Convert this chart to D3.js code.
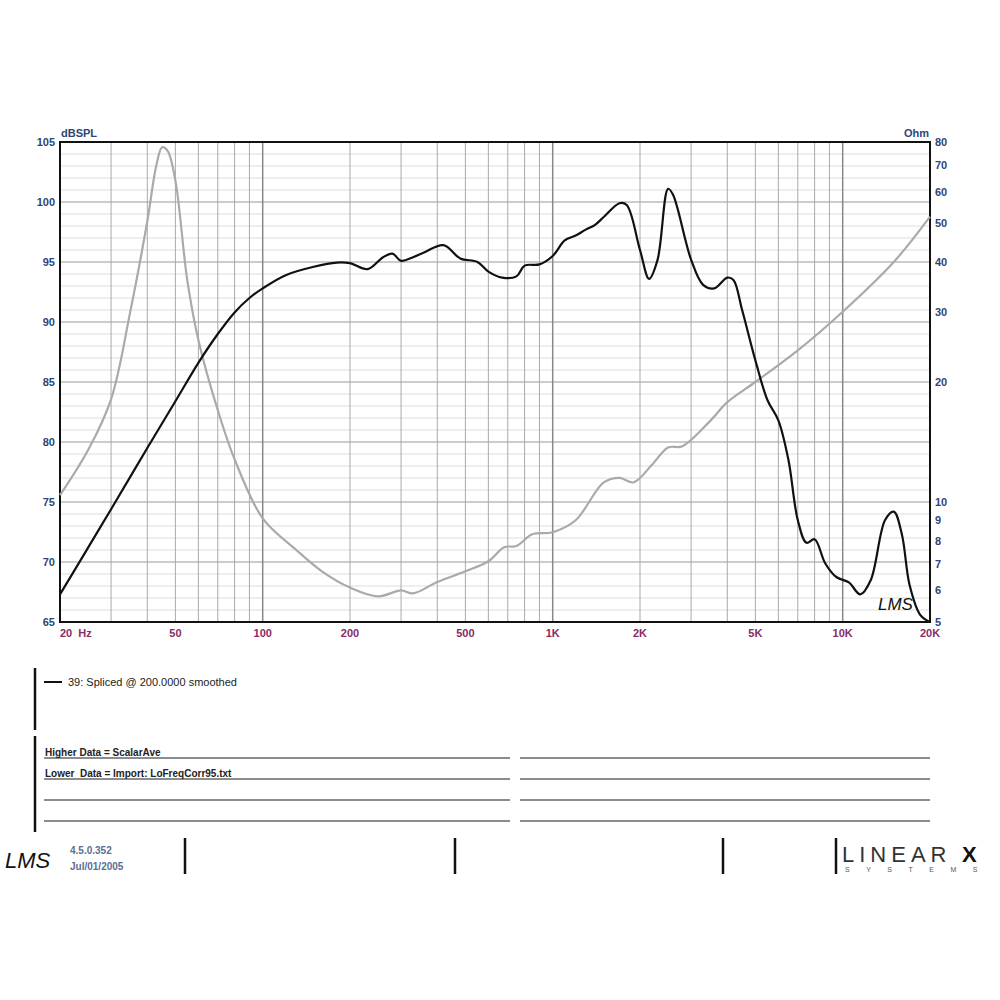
<!DOCTYPE html>
<html>
<head>
<meta charset="utf-8">
<script src="https://cdn.jsdelivr.net/npm/d3@7"></script>
<style>
  body { margin: 0; background: #fff; }
  text { font-family: "Liberation Sans", Arial, sans-serif; }
</style>
</head>
<body>
<svg id="chart" width="1000" height="1000"></svg>
<script>
"use strict";
// SPL response (black), freq Hz -> dB
var splFreq = [20, 25, 30, 40, 50, 60, 70, 80, 90, 100, 120, 150, 180, 200, 230, 260, 280, 300, 330, 360, 420, 480, 550, 600, 670, 750, 800, 900, 1000, 1100, 1200, 1300, 1400, 1500, 1700, 1800, 2000, 2150, 2300, 2500, 2600, 3000, 3300, 3600, 4000, 4200, 4500, 5000, 5500, 6000, 6500, 7000, 7500, 8000, 8700, 9500, 10500, 11500, 12500, 14000, 15000, 16000, 17000, 18500, 20000];
var splDb = [67.3, 71.2, 74.4, 79.5, 83.4, 86.6, 89.0, 90.8, 92.0, 92.8, 93.9, 94.6, 94.95, 94.9, 94.4, 95.4, 95.7, 95.1, 95.4, 95.8, 96.4, 95.3, 95.0, 94.2, 93.7, 93.8, 94.7, 94.8, 95.5, 96.8, 97.2, 97.7, 98.1, 98.75, 99.9, 99.75, 96.0, 93.6, 95.2, 101.1, 100.6, 95.2, 93.1, 92.8, 93.7, 93.5, 91.0, 86.8, 83.5, 81.8, 78.5, 73.5, 71.6, 71.9, 69.9, 68.75, 68.3, 67.3, 68.5, 73.5, 74.2, 72.3, 68.1, 65.6, 65.0];
// impedance (gray), freq Hz -> Ohm
var impFreq = [20, 25, 30, 35, 40, 43, 45, 47, 50, 55, 60, 70, 80, 100, 130, 160, 200, 250, 300, 330, 400, 500, 600, 680, 750, 850, 1000, 1200, 1500, 1700, 1900, 2200, 2500, 2800, 3500, 4000, 5000, 7000, 10000, 15000, 20000];
var impOhm = [10.4, 13.5, 18.1, 30.2, 50.6, 70, 77.6, 76, 64, 35.8, 25.5, 17.0, 12.8, 9.1, 7.6, 6.7, 6.1, 5.8, 6.0, 5.9, 6.3, 6.7, 7.1, 7.7, 7.76, 8.3, 8.4, 9.0, 11.2, 11.5, 11.2, 12.4, 13.7, 13.8, 16.0, 17.8, 20.0, 24.0, 30.0, 40.0, 52.0];

var dbTicks = [65, 70, 75, 80, 85, 90, 95, 100, 105];
var ohmTicks = [5, 6, 7, 8, 9, 10, 20, 30, 40, 50, 60, 70, 80];
var freqTicks = [20, 50, 100, 200, 500, 1000, 2000, 5000, 10000, 20000];
var freqLabels = ["20  Hz", "50", "100", "200", "500", "1K", "2K", "5K", "10K", "20K"];
var legendText = "39: Spliced @ 200.0000 smoothed";
var notes = ["Higher Data = ScalarAve", "Lower  Data = Import: LoFreqCorr95.txt"];

var svg = d3.select("#chart");
var L = 60, R = 930, T = 142, B = 622;
var x = d3.scaleLog().domain([20, 20000]).range([L, R]);
var y = d3.scaleLinear().domain([65, 105]).range([B, T]);
var yR = d3.scaleLog().domain([5, 80]).range([B, T]);

// grid
var g = svg.append("g");
d3.range(65, 106, 1).forEach(function (d) {
  g.append("line").attr("x1", L).attr("x2", R).attr("y1", y(d)).attr("y2", y(d))
    .attr("stroke", d % 5 === 0 ? "#999" : "#ddd").attr("stroke-width", d % 5 === 0 ? 1.2 : 1);
});
[10, 100, 1000, 10000].forEach(function (dec) {
  for (var m = 1; m < 10; m++) {
    var f = dec * m;
    if (f <= 20 || f >= 20000) continue;
    g.append("line").attr("y1", T).attr("y2", B).attr("x1", x(f)).attr("x2", x(f))
      .attr("stroke", m === 1 ? "#888" : "#aaa").attr("stroke-width", m === 1 ? 1.5 : 1);
  }
});
svg.append("rect").attr("x", L).attr("y", T).attr("width", R - L).attr("height", B - T)
  .attr("fill", "none").attr("stroke", "#111").attr("stroke-width", 2);

// axes text
var blue = "#2e4576", maroon = "#8a2a66";
svg.selectAll(".yl").data(dbTicks).enter().append("text")
  .attr("x", 55).attr("y", function (d) { return y(d) + 4; }).attr("text-anchor", "end")
  .attr("font-size", 11).attr("font-weight", "bold").attr("fill", blue).text(function (d) { return d; });
svg.selectAll(".yr").data(ohmTicks).enter().append("text")
  .attr("x", 935).attr("y", function (d) { return yR(d) + 4; })
  .attr("font-size", 11).attr("font-weight", "bold").attr("fill", blue).text(function (d) { return d; });
svg.selectAll(".xl").data(freqTicks).enter().append("text")
  .attr("x", function (d) { return x(d); }).attr("y", 637)
  .attr("text-anchor", function (d, i) { return i === 0 ? "start" : "middle"; })
  .attr("font-size", 11).attr("font-weight", "bold").attr("fill", maroon).attr("xml:space", "preserve")
  .text(function (d, i) { return freqLabels[i]; });
svg.append("text").attr("x", 61).attr("y", 137).attr("font-size", 11).attr("font-weight", "bold").attr("fill", blue).text("dBSPL");
svg.append("text").attr("x", 904).attr("y", 137).attr("font-size", 11).attr("font-weight", "bold").attr("fill", blue).text("Ohm");

// curves
var impLine = d3.line().curve(d3.curveCatmullRom)
  .x(function (d) { return x(d[0]); }).y(function (d) { return yR(d[1]); });
svg.append("path").attr("d", impLine(d3.zip(impFreq, impOhm)))
  .attr("fill", "none").attr("stroke", "#aaa").attr("stroke-width", 2.2);
var splLine = d3.line().curve(d3.curveCatmullRom)
  .x(function (d) { return x(d[0]); }).y(function (d) { return y(d[1]); });
svg.append("path").attr("d", splLine(d3.zip(splFreq, splDb)))
  .attr("fill", "none").attr("stroke", "#111").attr("stroke-width", 2.2);

svg.append("text").attr("x", 878).attr("y", 610).attr("font-size", 17).attr("font-style", "italic")
  .attr("font-family", "DejaVu Serif").attr("fill", "#111").text("LMS");

// legend box
svg.append("line").attr("x1", 35).attr("x2", 35).attr("y1", 668).attr("y2", 730).attr("stroke", "#111").attr("stroke-width", 2.5);
svg.append("line").attr("x1", 44).attr("x2", 62).attr("y1", 682).attr("y2", 682).attr("stroke", "#111").attr("stroke-width", 2);
svg.append("text").attr("x", 68).attr("y", 686).attr("font-size", 11).attr("fill", "#222").text(legendText);

svg.append("line").attr("x1", 35).attr("x2", 35).attr("y1", 736).attr("y2", 832).attr("stroke", "#111").attr("stroke-width", 2.5);
[758, 779, 800, 821].forEach(function (yy) {
  svg.append("line").attr("x1", 44).attr("x2", 510).attr("y1", yy).attr("y2", yy).attr("stroke", "#666").attr("stroke-width", 1.5);
  svg.append("line").attr("x1", 520).attr("x2", 930).attr("y1", yy).attr("y2", yy).attr("stroke", "#666").attr("stroke-width", 1.5);
});
notes.forEach(function (t, i) {
  svg.append("text").attr("x", 45).attr("y", 756 + i * 21).attr("font-size", 10).attr("font-weight", "bold")
    .attr("xml:space", "preserve").attr("fill", "#222").text(t);
});

// footer
svg.append("text").attr("x", 5).attr("y", 868).attr("font-size", 22).attr("font-style", "italic")
  .attr("font-family", "DejaVu Serif").attr("fill", "#111").text("LMS");
svg.append("text").attr("x", 70).attr("y", 854).attr("font-size", 10).attr("font-weight", "bold").attr("fill", "#5a6f96").text("4.5.0.352");
svg.append("text").attr("x", 70).attr("y", 870).attr("font-size", 10).attr("font-weight", "bold").attr("fill", "#5a6f96").text("Jul/01/2005");
[185, 455, 723, 836].forEach(function (xx) {
  svg.append("line").attr("x1", xx).attr("x2", xx).attr("y1", 838).attr("y2", 874).attr("stroke", "#111").attr("stroke-width", 2.5);
});
svg.append("text").attr("x", 842).attr("y", 862).attr("font-size", 22).attr("font-family", "Liberation Serif")
  .attr("letter-spacing", 5).attr("fill", "#333").text("LINEAR");
svg.append("text").attr("x", 962).attr("y", 862).attr("font-size", 22).attr("font-weight", "bold")
  .attr("font-family", "Liberation Sans").attr("fill", "#111").text("X");
svg.append("text").attr("x", 845).attr("y", 872).attr("font-size", 7).attr("letter-spacing", 16.5)
  .attr("fill", "#555").text("SYSTEMS");
</script>
</body>
</html>
